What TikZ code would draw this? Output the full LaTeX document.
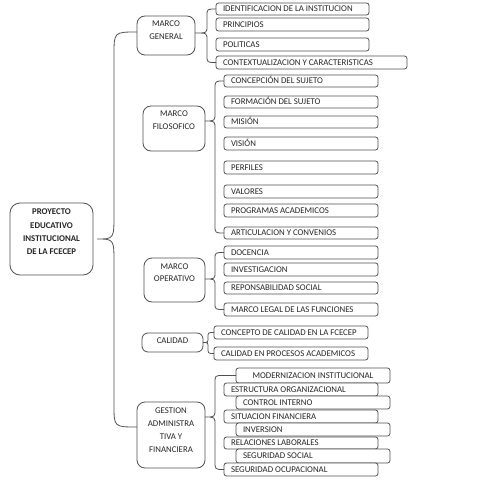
\documentclass[tikz,border=0pt]{standalone}
\usepackage{fontspec}
\setmainfont{Carlito}
\usetikzlibrary{calc}
\definecolor{tx}{HTML}{262626}
\definecolor{lnc}{HTML}{505050}
\tikzset{
  ln/.style={draw=lnc, line width=0.8pt},
  cbox/.style={ln, fill=white, rounded corners=2.5pt, inner xsep=7pt, inner ysep=0pt, outer sep=0pt, text=tx, font=\fontsize{8.8}{10}\selectfont, text height=5.7pt, text depth=0pt},
  pbox/.style={ln, fill=white, rounded corners=8pt, anchor=north west, inner xsep=2pt, outer sep=0pt, align=center, text=tx, font=\fontsize{8.8}{13}\selectfont},
}
\newcommand\cb[7][l]{\node[cbox, minimum height={(#6-#4)*1pt}] (#2) at ({(#3+#5)/2},{(#4+#6)/2}) {\makebox[\dimexpr #5pt-#3pt-14pt\relax][#1]{#7}};}
\begin{document}
\begin{tikzpicture}[x=1pt,y=-1pt]
\useasboundingbox (0,0) rectangle (495,495);
% root and level-1
\node[pbox, rounded corners=10pt, minimum width=83pt, inner ysep=6.2pt, text height=45.6pt, text depth=14pt, font=\bfseries\fontsize{8.8}{13.3}\selectfont] (root) at (10,203) {PROYECTO\\EDUCATIVO\\INSTITUCIONAL\\DE LA FCECEP};
\node[pbox, minimum width=58pt, inner ysep=5.2pt, text height=18.7pt, text depth=9.9pt] (mg) at (137,16) {MARCO\\GENERAL};
\node[pbox, minimum width=62pt, inner ysep=5.2pt, text height=18.7pt, text depth=15.9pt] (mf) at (143,106) {MARCO\\FILOSOFICO};
\node[pbox, minimum width=61pt, inner ysep=6.2pt, text height=17.7pt, text depth=13.9pt, font=\fontsize{8.8}{12}\selectfont] (mo) at (144,258) {MARCO\\OPERATIVO};
\node[pbox, rounded corners=6pt, minimum width=61pt, inner ysep=5.2pt, text height=5.7pt, text depth=2.9pt] (cal) at (142,333) {CALIDAD};
\node[pbox, minimum width=68pt, inner ysep=6.2pt, text height=43.8pt, text depth=9.8pt, font=\fontsize{8.8}{12.7}\selectfont] (gest) at (137,402) {GESTION\\ADMINISTRA\\TIVA Y\\FINANCIERA};
% children
\cb{ident}{216}{3}{369}{15}{IDENTIFICACION DE LA INSTITUCION}
\cb{princ}{216}{18}{369}{31}{PRINCIPIOS}
\cb{polit}{216}{38}{369}{51}{POLITICAS}
\cb{ctx}{216}{56}{407}{69}{CONTEXTUALIZACION Y CARACTERISTICAS}
\cb{conc}{224}{75}{378}{87}{CONCEPCIÓN DEL SUJETO}
\cb{form}{224}{96}{378}{108}{FORMACIÓN DEL SUJETO}
\cb{mis}{224}{116}{378}{128}{MISIÓN}
\cb{vis}{224}{137}{378}{150}{VISIÓN}
\cb{perf}{224}{161}{378}{174}{PERFILES}
\cb{val}{224}{185}{378}{198}{VALORES}
\cb{prog}{224}{204}{378}{217}{PROGRAMAS ACADEMICOS}
\cb{art}{224}{227}{378}{239}{ARTICULACION Y CONVENIOS}
\cb{doc}{224}{246}{378}{259}{DOCENCIA}
\cb{inv}{224}{263}{378}{276}{INVESTIGACION}
\cb{resp}{224}{282}{378}{294}{REPONSABILIDAD SOCIAL}
\cb{mleg}{224}{303}{378}{316}{MARCO LEGAL DE LAS FUNCIONES}
\cb{cc}{214}{326}{368}{339}{CONCEPTO DE CALIDAD EN LA FCECEP}
\cb{cp}{214}{347}{368}{360}{CALIDAD EN PROCESOS ACADEMICOS}
\cb[c]{mod}{236}{368}{390}{383}{MODERNIZACION INSTITUCIONAL}
\cb{est}{224}{383}{378}{396}{ESTRUCTURA ORGANIZACIONAL}
\cb{ci}{236}{396}{390}{409}{CONTROL INTERNO}
\cb{sit}{224}{410}{378}{423}{SITUACION FINANCIERA}
\cb{invs}{236}{423}{390}{436}{INVERSION}
\cb{rel}{224}{437}{378}{449}{RELACIONES LABORALES}
\cb{ss}{236}{449}{390}{463}{SEGURIDAD SOCIAL}
\cb{sego}{224}{463}{378}{476}{SEGURIDAD OCUPACIONAL}
% braces
\draw[ln] ([yshift=3.5pt]mg.west) .. controls (114,32) .. (114,55) -- (114,214)
  .. controls (114,239) .. ([xshift=4pt]root.east) .. controls (114,239) .. (114,264)
  -- (114,405) .. controls (114,427) .. ([yshift=8pt]gest.west);
\draw[ln] (ident.west) .. controls (207,9) .. (207,16) -- (207,26)
  .. controls (207,33) .. ([yshift=2.5pt]mg.east) .. controls (207,33) .. (207,40)
  -- (207,55.5) .. controls (207,62.5) .. (ctx.west);
\draw[ln] (conc.west) .. controls (215,81) .. (215,89) -- (215,113)
  .. controls (215,121) .. ([yshift=7.5pt]mf.east) .. controls (215,121) .. (215,129)
  -- (215,225) .. controls (215,233) .. (art.west);
\draw[ln] (doc.west) .. controls (215,252.5) .. (215,259.5) -- (215,272)
  .. controls (215,279) .. ([yshift=1pt]mo.east) .. controls (215,279) .. (215,286)
  -- (215,302.5) .. controls (215,309.5) .. (mleg.west);
\draw[ln] (cc.west) .. controls (208,332.5) .. (208,337.5)
  .. controls (208,342.5) .. (cal.east) .. controls (208,342.5) .. (208,347.5)
  .. controls (208,353.5) .. (cp.west);
\draw[ln] (mod.west) -- (223,375.5) .. controls (215,375.5) .. (215,383.5) -- (215,409)
  .. controls (215,417) .. ([yshift=18pt]gest.east) .. controls (215,417) .. (215,425)
  -- (215,461.5) .. controls (215,469.5) .. (sego.west);
\end{tikzpicture}
\end{document}
